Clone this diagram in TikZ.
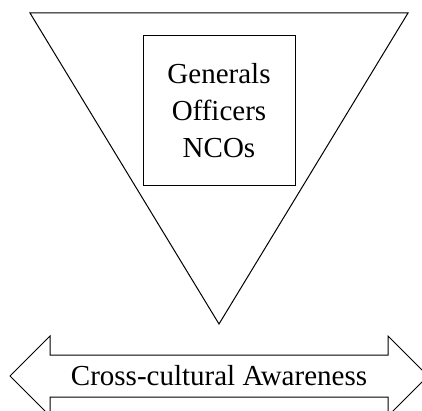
\documentclass[tikz,border=0pt]{standalone}
\usepackage{fontspec}
\setmainfont{Liberation Serif}
\usepackage{tikz}

\tikzset{
	ranks/.style={draw, line width=1pt, minimum width=152pt, minimum height=150pt, align=center, font=\fontsize{29}{37}\selectfont},
	awareness/.style={font=\fontsize{29}{34}\selectfont}
}

\begin{document}
\begin{tikzpicture}[x=1pt, y=-1pt]
	\useasboundingbox (0,0) rectangle (422,411);
	\draw[line width=1pt] (30,13) -- (408,13) -- (219,324) -- cycle;
	\node[ranks] (ranks) at (219,111) {Generals\\Officers\\NCOs};
	\draw[line width=1pt] (10,376) -- (50,336) -- (50,355) -- (388,355) -- (388,336) -- (428,376)
		-- (388,416) -- (388,397) -- (50,397) -- (50,416) -- cycle;
	\node[awareness, anchor=base] (awareness) at (219,385) {Cross-cultural Awareness};
\end{tikzpicture}
\end{document}
